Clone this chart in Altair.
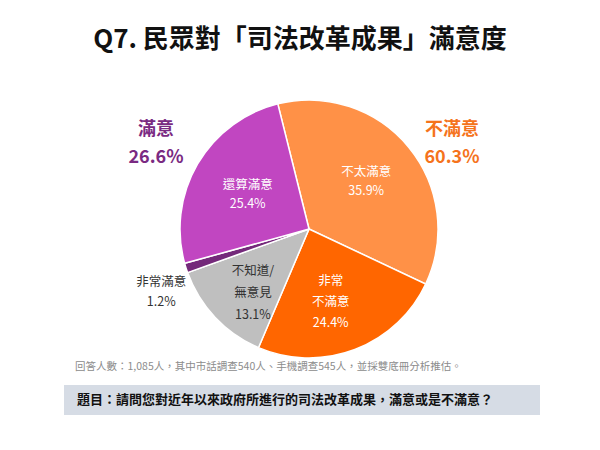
import math
import altair as alt
import pandas as pd

categories = ["不太滿意", "非常不滿意", "不知道/無意見", "非常滿意", "還算滿意"]
values = [35.9, 24.4, 13.1, 1.2, 25.4]
label_lines = ["不太滿意\n35.9%", "非常\n不滿意\n24.4%", "不知道/\n無意見\n13.1%", "非常滿意\n1.2%", "還算滿意\n25.4%"]
colors = ["#FF9147", "#FF6600", "#BFBFBF", "#74297A", "#C146C1"]
group_names = ["滿意", "不滿意"]
group_values = ["26.6%", "60.3%"]
title_text = "Q7. 民眾對「司法改革成果」滿意度"
footnote = "回答人數：1,085人，其中市話調查540人、手機調查545人，並採雙底冊分析推估。"
question = "題目：請問您對近年以來政府所進行的司法改革成果，滿意或是不滿意？"

START_DEG = -14.0
FONT = "Noto Sans CJK TC"

df = pd.DataFrame({"cat": categories, "value": values, "label": label_lines,
                   "order": list(range(len(categories)))})

W, H = 600, 450
CX, CY, R = 309, 229, 129

base = alt.Chart(df).transform_window(
    cum="sum(value)", sort=[alt.SortField("order")]
).transform_calculate(
    start=f"(datum.cum - datum.value) / 100 * 2 * PI + {math.radians(START_DEG) + 2*math.pi}",
    end=f"datum.cum / 100 * 2 * PI + {math.radians(START_DEG) + 2*math.pi}",
    mid=f"(datum.cum - datum.value / 2) / 100 * 2 * PI + {math.radians(START_DEG) + 2*math.pi}",
)

pie = base.mark_arc(outerRadius=R, stroke="white", strokeWidth=1.5).encode(
    theta=alt.Theta("start:Q", scale=None),
    theta2="end:Q",
    x=alt.value(CX), y=alt.value(CY),
    color=alt.Color("cat:N", scale=alt.Scale(domain=categories, range=colors), legend=None),
)


def slice_label(cat, r, color, line_h, dx=0, dy=0):
    return base.transform_filter(alt.datum.cat == cat).mark_text(
        font=FONT, fontSize=12.5, lineBreak="\n", lineHeight=line_h, color=color,
        align="center", baseline="middle", dx=dx, dy=dy,
    ).encode(
        theta=alt.Theta("mid:Q", scale=None),
        radius=alt.value(r),
        x=alt.value(CX), y=alt.value(CY),
        text="label:N",
    )


labels = [
    slice_label("不太滿意", 74, "white", 19, dy=-10),
    slice_label("非常不滿意", 75, "white", 21, dx=-5, dy=-18),
    slice_label("不知道/無意見", 84, "#333333", 22, dx=5, dy=-16),
    slice_label("非常滿意", 155, "#333333", 20, dx=0, dy=6),
    slice_label("還算滿意", 71, "white", 19, dy=-8),
]

gdf = pd.DataFrame({"name": group_names, "val": group_values})


def group_label(i, x, color):
    g = alt.Chart(gdf).transform_filter(alt.datum.name == group_names[i])
    t1 = g.mark_text(font=FONT, fontSize=18, fontWeight="bold", color=color,
                     align="center", baseline="middle").encode(
        x=alt.value(x), y=alt.value(130), text="name:N")
    t2 = g.mark_text(font=FONT, fontSize=18, fontWeight="bold", color=color,
                     align="center", baseline="middle").encode(
        x=alt.value(x), y=alt.value(158), text="val:N")
    return t1 + t2


tdf = pd.DataFrame({"title": [title_text], "foot": [footnote], "q": [question]})
tc = alt.Chart(tdf)
title = tc.mark_text(font=FONT, fontSize=26, fontWeight="bold", color="#111111",
                     align="center", baseline="middle").encode(
    x=alt.value(300), y=alt.value(40), text="title:N")
foot = tc.mark_text(font=FONT, fontSize=10.5, color="#8C8C8C",
                    align="left", baseline="middle").encode(
    x=alt.value(75), y=alt.value(367), text="foot:N")
box = tc.mark_rect(color="#D6DCE5").encode(
    x=alt.value(64), x2=alt.value(540), y=alt.value(385), y2=alt.value(415))
q = tc.mark_text(font=FONT, fontSize=13, fontWeight="bold", color="#111111",
                 align="left", baseline="middle").encode(
    x=alt.value(77), y=alt.value(400), text="q:N")

chart = alt.layer(
    pie, *labels, group_label(0, 156, "#7A2A82"), group_label(1, 452, "#F5731C"),
    title, foot, box, q,
).properties(
    width=W, height=H, padding=0, autosize="none", background="white"
).configure_view(stroke=None)

chart.save("out.html", embed_options={"renderer": "svg", "actions": False})
